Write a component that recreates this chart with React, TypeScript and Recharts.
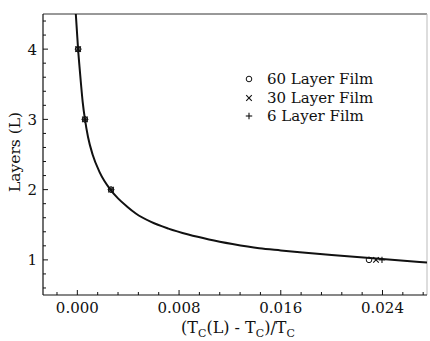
import React from 'react';
import { ComposedChart, Line, Scatter, XAxis, YAxis, ReferenceLine, Legend } from 'recharts';

// Fitted curve: reduced temperature shift vs layers
const CURVE_T = [-0.00012, -0.00003, 0.00006, 0.00017, 0.00029, 0.00042, 0.0006, 0.00084, 0.0012, 0.00175, 0.0026, 0.0032, 0.0039, 0.0046, 0.0058, 0.00716, 0.00873, 0.01035, 0.0122, 0.0143, 0.016, 0.0175, 0.02, 0.0235, 0.0275];
const CURVE_L = [4.5, 4.25, 4.0, 3.75, 3.5, 3.25, 3.0, 2.75, 2.5, 2.25, 2.0, 1.875, 1.76, 1.66, 1.54, 1.445, 1.36, 1.29, 1.225, 1.165, 1.135, 1.11, 1.07, 1.018, 0.962];

// Measured points
const FILM60_T = [0.00006, 0.0006, 0.00265, 0.02294];
const FILM60_L = [4, 3, 2, 1];
const FILM30_T = [0.00006, 0.0006, 0.00265, 0.02349];
const FILM30_L = [4, 3, 2, 1];
const FILM6_T = [0.00006, 0.0006, 0.00265, 0.02396];
const FILM6_L = [4, 3, 2, 1];

const SERIES_NAMES = ['60 Layer Film', '30 Layer Film', '6 Layer Film'];

const X_DOMAIN = [-0.0027, 0.0275];
const Y_DOMAIN = [0.5, 4.5];
const X_TICKS = [-0.0016, 0, 0.0016, 0.0032, 0.0048, 0.0064, 0.008, 0.0096, 0.0112, 0.0128, 0.0144, 0.016, 0.0176, 0.0192, 0.0208, 0.0224, 0.024, 0.0256, 0.0272];
const X_MAJOR = [0, 0.008, 0.016, 0.024];
const Y_TICKS = [0.6, 0.8, 1, 1.2, 1.4, 1.6, 1.8, 2, 2.2, 2.4, 2.6, 2.8, 3, 3.2, 3.4, 3.6, 3.8, 4, 4.2, 4.4];
const Y_MAJOR = [1, 2, 3, 4];

const zip = (ts: number[], ls: number[]) => ts.map((t, i) => ({ t, L: ls[i] }));
const curveData = zip(CURVE_T, CURVE_L);
const film60 = zip(FILM60_T, FILM60_L);
const film30 = zip(FILM30_T, FILM30_L);
const film6 = zip(FILM6_T, FILM6_L);

const FONT = '"DejaVu Serif", serif';
const INK = '#111';

const isMajor = (v: number, majors: number[]) => majors.some((m) => Math.abs(m - v) < 1e-9);

const XTick = (props: any) => {
  const { x, y, payload } = props;
  const major = isMajor(payload.value, X_MAJOR);
  return (
    <g>
      <line x1={x} x2={x} y1={y} y2={y - (major ? 5 : 3)} stroke={INK} strokeWidth={1} />
      {major && (
        <text x={x} y={y + 18} textAnchor="middle" fontFamily={FONT} fontSize={15} fill={INK}>
          {payload.value.toFixed(3)}
        </text>
      )}
    </g>
  );
};

const YTick = (props: any) => {
  const { x, y, payload } = props;
  const major = isMajor(payload.value, Y_MAJOR);
  return (
    <g>
      <line x1={x} x2={x + (major ? 5 : 3)} y1={y} y2={y} stroke={INK} strokeWidth={1} />
      {major && (
        <text x={x - 6} y={y + 5.5} textAnchor="end" fontFamily={FONT} fontSize={15} fill={INK}>
          {String(payload.value)}
        </text>
      )}
    </g>
  );
};

const CircleMark = (p: any) => <circle cx={p.cx} cy={p.cy} r={2.8} fill="none" stroke={INK} strokeWidth={1} />;
const XMark = (p: any) => (
  <g stroke={INK} strokeWidth={1.1}>
    <line x1={p.cx - 2.8} y1={p.cy - 2.8} x2={p.cx + 2.8} y2={p.cy + 2.8} />
    <line x1={p.cx - 2.8} y1={p.cy + 2.8} x2={p.cx + 2.8} y2={p.cy - 2.8} />
  </g>
);
const PlusMark = (p: any) => (
  <g stroke={INK} strokeWidth={1.1}>
    <line x1={p.cx - 3.2} y1={p.cy} x2={p.cx + 3.2} y2={p.cy} />
    <line x1={p.cx} y1={p.cy - 3.2} x2={p.cx} y2={p.cy + 3.2} />
  </g>
);
const MARKS = [CircleMark, XMark, PlusMark];

const LegendContent = () => (
  <div style={{ fontFamily: FONT, fontSize: 15, color: INK }}>
    {SERIES_NAMES.map((name, i) => {
      const M = MARKS[i];
      return (
        <div key={name} style={{ display: 'flex', alignItems: 'center', height: 18.5, whiteSpace: 'nowrap' }}>
          <svg width={12} height={12} style={{ display: 'block' }}>
            <M cx={6} cy={6} />
          </svg>
          <span style={{ marginLeft: 12, lineHeight: '18.5px' }}>{name}</span>
        </div>
      );
    })}
  </div>
);

const YLabel = () => (
  <text x={15} y={152} transform="rotate(-90 15 152)" textAnchor="middle" dominantBaseline="central" fontFamily={FONT} fontSize={15.5} fill={INK}>
    Layers (L)
  </text>
);

const XLabel = () => (
  <text x={238} y={333} textAnchor="middle" fontFamily={FONT} fontSize={16} fill={INK}>
    <tspan>(T</tspan>
    <tspan dy={3.5} fontSize={11}>C</tspan>
    <tspan dy={-3.5}>(L) - T</tspan>
    <tspan dy={3.5} fontSize={11}>C</tspan>
    <tspan dy={-3.5}>)/T</tspan>
    <tspan dy={3.5} fontSize={11}>C</tspan>
  </text>
);

export default function App() {
  return (
    <div style={{ position: 'absolute', left: 0, top: 0, background: '#fff' }}>
      <ComposedChart width={430} height={341} margin={{ top: 14, right: 3, bottom: 0, left: 0 }}>
        <XAxis
          type="number"
          dataKey="t"
          domain={X_DOMAIN}
          allowDataOverflow
          ticks={X_TICKS}
          interval={0}
          tickSize={0}
          tickMargin={0}
          tickLine={false}
          tick={<XTick />}
          height={46}
          axisLine={{ stroke: INK, strokeWidth: 1.2 }}
          label={<XLabel />}
        />
        <YAxis
          type="number"
          dataKey="L"
          domain={Y_DOMAIN}
          allowDataOverflow
          ticks={Y_TICKS}
          interval={0}
          tickSize={0}
          tickMargin={0}
          tickLine={false}
          tick={<YTick />}
          width={43}
          axisLine={{ stroke: INK, strokeWidth: 1.2 }}
          label={<YLabel />}
        />
        <ReferenceLine y={Y_DOMAIN[1]} stroke="#333" strokeWidth={1} />
        <ReferenceLine x={X_DOMAIN[1]} stroke="#bbb" strokeWidth={1} />
        <Line
          data={curveData}
          dataKey="L"
          type="monotone"
          stroke={INK}
          strokeWidth={2}
          dot={false}
          activeDot={false}
          isAnimationActive={false}
          legendType="none"
        />
        <Scatter data={film60} dataKey="L" name={SERIES_NAMES[0]} shape={CircleMark} isAnimationActive={false} />
        <Scatter data={film30} dataKey="L" name={SERIES_NAMES[1]} shape={XMark} isAnimationActive={false} />
        <Scatter data={film6} dataKey="L" name={SERIES_NAMES[2]} shape={PlusMark} isAnimationActive={false} />
        <Legend
          layout="vertical"
          align="center"
          verticalAlign="middle"
          content={<LegendContent />}
          wrapperStyle={{ position: 'absolute', left: 243, top: 70, width: 'auto', height: 'auto' }}
        />
      </ComposedChart>
    </div>
  );
}
